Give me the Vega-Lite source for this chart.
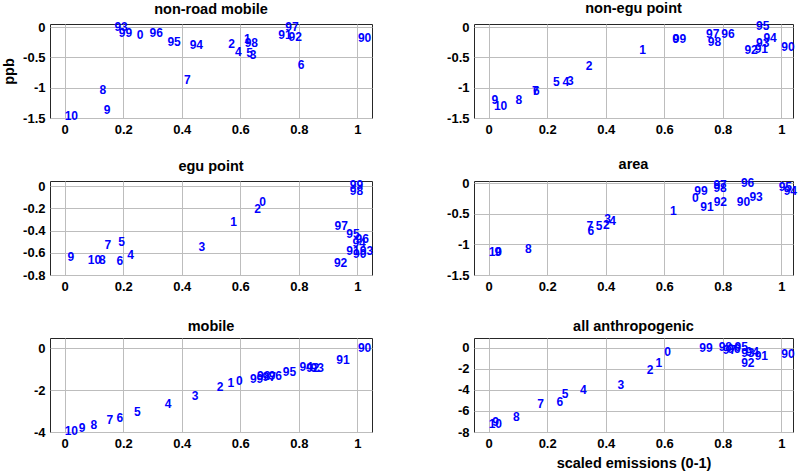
{
  "$schema": "https://vega.github.io/schema/vega-lite/v6.json",
  "background": "white",
  "padding": {"left": 1, "top": 0, "right": 5, "bottom": 2},
  "config": {
    "font": "Liberation Sans",
    "view": {"stroke": "#262626", "strokeWidth": 1},
    "axis": {
      "labelFont": "Liberation Sans", "labelFontSize": 13, "labelFontWeight": "bold", "labelColor": "black",
      "grid": true, "gridColor": "#bdbdbd", "gridOpacity": 1, "ticks": false, "domain": false,
      "labelPadding": 5, "labelOverlap": false, "labelFlush": false, "labelBound": false,
      "titleFont": "Liberation Sans", "titleFontSize": 14.5, "titleFontWeight": "bold", "titleColor": "black",
      "labelExpr": "'' + datum.value"
    },
    "title": {"font": "Liberation Sans", "fontSize": 14.5, "fontWeight": "bold", "color": "black", "offset": 4}
  },
  "datasets": {
    "d": [
      {"p": "non-road mobile", "l": "90", "x": 1.002, "y": -0.175},
      {"p": "non-road mobile", "l": "91", "x": 0.730, "y": -0.137},
      {"p": "non-road mobile", "l": "92", "x": 0.765, "y": -0.172},
      {"p": "non-road mobile", "l": "93", "x": 0.170, "y": 0.0},
      {"p": "non-road mobile", "l": "94", "x": 0.427, "y": -0.297},
      {"p": "non-road mobile", "l": "95", "x": 0.351, "y": -0.247},
      {"p": "non-road mobile", "l": "96", "x": 0.290, "y": -0.092},
      {"p": "non-road mobile", "l": "97", "x": 0.754, "y": 0.0},
      {"p": "non-road mobile", "l": "98", "x": 0.615, "y": -0.265},
      {"p": "non-road mobile", "l": "99", "x": 0.185, "y": -0.092},
      {"p": "non-road mobile", "l": "0", "x": 0.246, "y": -0.13},
      {"p": "non-road mobile", "l": "1", "x": 0.613, "y": -0.20},
      {"p": "non-road mobile", "l": "2", "x": 0.559, "y": -0.28},
      {"p": "non-road mobile", "l": "3", "x": 0.632, "y": -0.465},
      {"p": "non-road mobile", "l": "4", "x": 0.582, "y": -0.418},
      {"p": "non-road mobile", "l": "5", "x": 0.620, "y": -0.425},
      {"p": "non-road mobile", "l": "6", "x": 0.796, "y": -0.632},
      {"p": "non-road mobile", "l": "7", "x": 0.408, "y": -0.875},
      {"p": "non-road mobile", "l": "8", "x": 0.119, "y": -1.04},
      {"p": "non-road mobile", "l": "9", "x": 0.134, "y": -1.37},
      {"p": "non-road mobile", "l": "10", "x": 0.0, "y": -1.46},

      {"p": "non-egu point", "l": "90", "x": 1.0, "y": -0.325},
      {"p": "non-egu point", "l": "91", "x": 0.909, "y": -0.355},
      {"p": "non-egu point", "l": "92", "x": 0.874, "y": -0.38},
      {"p": "non-egu point", "l": "93", "x": 0.914, "y": -0.26},
      {"p": "non-egu point", "l": "94", "x": 0.939, "y": -0.175},
      {"p": "non-egu point", "l": "95", "x": 0.914, "y": 0.01},
      {"p": "non-egu point", "l": "96", "x": 0.795, "y": -0.12},
      {"p": "non-egu point", "l": "97", "x": 0.743, "y": -0.12},
      {"p": "non-egu point", "l": "98", "x": 0.749, "y": -0.248},
      {"p": "non-egu point", "l": "99", "x": 0.629, "y": -0.20},
      {"p": "non-egu point", "l": "0", "x": 0.627, "y": -0.20},
      {"p": "non-egu point", "l": "1", "x": 0.515, "y": -0.38},
      {"p": "non-egu point", "l": "2", "x": 0.332, "y": -0.645},
      {"p": "non-egu point", "l": "3", "x": 0.268, "y": -0.895},
      {"p": "non-egu point", "l": "4", "x": 0.252, "y": -0.905},
      {"p": "non-egu point", "l": "5", "x": 0.220, "y": -0.905},
      {"p": "non-egu point", "l": "6", "x": 0.152, "y": -1.06},
      {"p": "non-egu point", "l": "7", "x": 0.148, "y": -1.05},
      {"p": "non-egu point", "l": "8", "x": 0.092, "y": -1.197},
      {"p": "non-egu point", "l": "9", "x": 0.010, "y": -1.20},
      {"p": "non-egu point", "l": "10", "x": 0.018, "y": -1.31},

      {"p": "egu point", "l": "90", "x": 0.985, "y": -0.61},
      {"p": "egu point", "l": "91", "x": 0.962, "y": -0.585},
      {"p": "egu point", "l": "92", "x": 0.920, "y": -0.693},
      {"p": "egu point", "l": "93", "x": 1.008, "y": -0.58},
      {"p": "egu point", "l": "94", "x": 0.983, "y": -0.51},
      {"p": "egu point", "l": "95", "x": 0.962, "y": -0.434},
      {"p": "egu point", "l": "96", "x": 0.994, "y": -0.48},
      {"p": "egu point", "l": "97", "x": 0.922, "y": -0.362},
      {"p": "egu point", "l": "98", "x": 0.974, "y": -0.042},
      {"p": "egu point", "l": "99", "x": 0.974, "y": 0.013},
      {"p": "egu point", "l": "0", "x": 0.665, "y": -0.145},
      {"p": "egu point", "l": "1", "x": 0.566, "y": -0.326},
      {"p": "egu point", "l": "2", "x": 0.648, "y": -0.211},
      {"p": "egu point", "l": "3", "x": 0.457, "y": -0.548},
      {"p": "egu point", "l": "4", "x": 0.214, "y": -0.618},
      {"p": "egu point", "l": "5", "x": 0.183, "y": -0.503},
      {"p": "egu point", "l": "6", "x": 0.177, "y": -0.67},
      {"p": "egu point", "l": "7", "x": 0.136, "y": -0.534},
      {"p": "egu point", "l": "8", "x": 0.117, "y": -0.663},
      {"p": "egu point", "l": "9", "x": 0.010, "y": -0.639},
      {"p": "egu point", "l": "10", "x": 0.079, "y": -0.663},

      {"p": "area", "l": "90", "x": 0.848, "y": -0.31},
      {"p": "area", "l": "91", "x": 0.723, "y": -0.38},
      {"p": "area", "l": "92", "x": 0.769, "y": -0.31},
      {"p": "area", "l": "93", "x": 0.891, "y": -0.226},
      {"p": "area", "l": "94", "x": 1.008, "y": -0.127},
      {"p": "area", "l": "95", "x": 0.991, "y": -0.06},
      {"p": "area", "l": "96", "x": 0.862, "y": 0.01},
      {"p": "area", "l": "97", "x": 0.768, "y": -0.033},
      {"p": "area", "l": "98", "x": 0.768, "y": -0.07},
      {"p": "area", "l": "99", "x": 0.703, "y": -0.132},
      {"p": "area", "l": "0", "x": 0.695, "y": -0.238},
      {"p": "area", "l": "1", "x": 0.62, "y": -0.446},
      {"p": "area", "l": "2", "x": 0.391, "y": -0.685},
      {"p": "area", "l": "3", "x": 0.395, "y": -0.585},
      {"p": "area", "l": "4", "x": 0.412, "y": -0.61},
      {"p": "area", "l": "5", "x": 0.366, "y": -0.695},
      {"p": "area", "l": "6", "x": 0.338, "y": -0.777},
      {"p": "area", "l": "7", "x": 0.334, "y": -0.695},
      {"p": "area", "l": "8", "x": 0.124, "y": -1.07},
      {"p": "area", "l": "9", "x": 0.02, "y": -1.12},
      {"p": "area", "l": "10", "x": 0.0, "y": -1.13},

      {"p": "mobile", "l": "90", "x": 1.002, "y": 0.0},
      {"p": "mobile", "l": "91", "x": 0.928, "y": -0.54},
      {"p": "mobile", "l": "92", "x": 0.825, "y": -0.95},
      {"p": "mobile", "l": "93", "x": 0.84, "y": -0.95},
      {"p": "mobile", "l": "94", "x": 0.802, "y": -0.87},
      {"p": "mobile", "l": "95", "x": 0.745, "y": -1.14},
      {"p": "mobile", "l": "96", "x": 0.697, "y": -1.33},
      {"p": "mobile", "l": "97", "x": 0.676, "y": -1.38},
      {"p": "mobile", "l": "98", "x": 0.657, "y": -1.33},
      {"p": "mobile", "l": "99", "x": 0.633, "y": -1.47},
      {"p": "mobile", "l": "0", "x": 0.585, "y": -1.58},
      {"p": "mobile", "l": "1", "x": 0.556, "y": -1.65},
      {"p": "mobile", "l": "2", "x": 0.52, "y": -1.86},
      {"p": "mobile", "l": "3", "x": 0.434, "y": -2.28},
      {"p": "mobile", "l": "4", "x": 0.342, "y": -2.68},
      {"p": "mobile", "l": "5", "x": 0.237, "y": -3.05},
      {"p": "mobile", "l": "6", "x": 0.177, "y": -3.32},
      {"p": "mobile", "l": "7", "x": 0.143, "y": -3.41},
      {"p": "mobile", "l": "8", "x": 0.088, "y": -3.68},
      {"p": "mobile", "l": "9", "x": 0.048, "y": -3.79},
      {"p": "mobile", "l": "10", "x": 0.0, "y": -3.95},

      {"p": "all anthropogenic", "l": "90", "x": 1.0, "y": -0.66},
      {"p": "all anthropogenic", "l": "91", "x": 0.909, "y": -0.82},
      {"p": "all anthropogenic", "l": "92", "x": 0.863, "y": -1.45},
      {"p": "all anthropogenic", "l": "93", "x": 0.863, "y": -0.5},
      {"p": "all anthropogenic", "l": "94", "x": 0.878, "y": -0.41},
      {"p": "all anthropogenic", "l": "95", "x": 0.84, "y": 0.03},
      {"p": "all anthropogenic", "l": "96", "x": 0.815, "y": -0.15},
      {"p": "all anthropogenic", "l": "97", "x": 0.80, "y": -0.25},
      {"p": "all anthropogenic", "l": "98", "x": 0.786, "y": 0.05},
      {"p": "all anthropogenic", "l": "99", "x": 0.72, "y": -0.05},
      {"p": "all anthropogenic", "l": "0", "x": 0.60, "y": -0.47},
      {"p": "all anthropogenic", "l": "1", "x": 0.57, "y": -1.42},
      {"p": "all anthropogenic", "l": "2", "x": 0.54, "y": -2.1},
      {"p": "all anthropogenic", "l": "3", "x": 0.44, "y": -3.53},
      {"p": "all anthropogenic", "l": "4", "x": 0.312, "y": -4.06},
      {"p": "all anthropogenic", "l": "5", "x": 0.25, "y": -4.41},
      {"p": "all anthropogenic", "l": "6", "x": 0.232, "y": -5.2},
      {"p": "all anthropogenic", "l": "7", "x": 0.166, "y": -5.32},
      {"p": "all anthropogenic", "l": "8", "x": 0.083, "y": -6.58},
      {"p": "all anthropogenic", "l": "9", "x": 0.012, "y": -7.09},
      {"p": "all anthropogenic", "l": "10", "x": 0.0, "y": -7.25}
    ]
  },
  "data": {"name": "d"},
  "columns": 2,
  "spacing": {"row": 63, "column": 102},
  "bounds": "flush",
  "concat": [
    {
      "width": 322, "height": 94, "title": "non-road mobile",
      "transform": [{"filter": "datum.p == 'non-road mobile'"}],
      "mark": {"type": "text", "align": "left", "baseline": "middle", "font": "Liberation Sans", "fontSize": 12, "fontWeight": "bold", "color": "#0000ff"},
      "encoding": {
        "x": {"field": "x", "type": "quantitative", "scale": {"domain": [-0.05, 1.05], "nice": false, "zero": false}, "axis": {"title": null, "values": [0, 0.2, 0.4, 0.6, 0.8, 1]}},
        "y": {"field": "y", "type": "quantitative", "scale": {"domain": [-1.5, 0.05], "nice": false, "zero": false}, "axis": {"title": "ppb", "titlePadding": 6, "values": [-1.5, -1, -0.5, 0]}},
        "text": {"field": "l", "type": "nominal"}
      }
    },
    {
      "width": 319, "height": 94, "title": "non-egu point",
      "transform": [{"filter": "datum.p == 'non-egu point'"}],
      "mark": {"type": "text", "align": "left", "baseline": "middle", "font": "Liberation Sans", "fontSize": 12, "fontWeight": "bold", "color": "#0000ff"},
      "encoding": {
        "x": {"field": "x", "type": "quantitative", "scale": {"domain": [-0.05, 1.04], "nice": false, "zero": false}, "axis": {"title": null, "values": [0, 0.2, 0.4, 0.6, 0.8, 1]}},
        "y": {"field": "y", "type": "quantitative", "scale": {"domain": [-1.5, 0.05], "nice": false, "zero": false}, "axis": {"title": null, "values": [-1.5, -1, -0.5, 0]}},
        "text": {"field": "l", "type": "nominal"}
      }
    },
    {
      "width": 322, "height": 94, "title": "egu point",
      "transform": [{"filter": "datum.p == 'egu point'"}],
      "mark": {"type": "text", "align": "left", "baseline": "middle", "font": "Liberation Sans", "fontSize": 12, "fontWeight": "bold", "color": "#0000ff"},
      "encoding": {
        "x": {"field": "x", "type": "quantitative", "scale": {"domain": [-0.05, 1.05], "nice": false, "zero": false}, "axis": {"title": null, "values": [0, 0.2, 0.4, 0.6, 0.8, 1]}},
        "y": {"field": "y", "type": "quantitative", "scale": {"domain": [-0.8, 0.045], "nice": false, "zero": false}, "axis": {"title": null, "values": [-0.8, -0.6, -0.4, -0.2, 0]}},
        "text": {"field": "l", "type": "nominal"}
      }
    },
    {
      "width": 319, "height": 94, "title": "area",
      "transform": [{"filter": "datum.p == 'area'"}],
      "mark": {"type": "text", "align": "left", "baseline": "middle", "font": "Liberation Sans", "fontSize": 12, "fontWeight": "bold", "color": "#0000ff"},
      "encoding": {
        "x": {"field": "x", "type": "quantitative", "scale": {"domain": [-0.05, 1.04], "nice": false, "zero": false}, "axis": {"title": null, "values": [0, 0.2, 0.4, 0.6, 0.8, 1]}},
        "y": {"field": "y", "type": "quantitative", "scale": {"domain": [-1.5, 0.04], "nice": false, "zero": false}, "axis": {"title": null, "values": [-1.5, -1, -0.5, 0]}},
        "text": {"field": "l", "type": "nominal"}
      }
    },
    {
      "width": 322, "height": 94, "title": "mobile",
      "transform": [{"filter": "datum.p == 'mobile'"}],
      "mark": {"type": "text", "align": "left", "baseline": "middle", "font": "Liberation Sans", "fontSize": 12, "fontWeight": "bold", "color": "#0000ff"},
      "encoding": {
        "x": {"field": "x", "type": "quantitative", "scale": {"domain": [-0.05, 1.05], "nice": false, "zero": false}, "axis": {"title": null, "values": [0, 0.2, 0.4, 0.6, 0.8, 1]}},
        "y": {"field": "y", "type": "quantitative", "scale": {"domain": [-4, 0.5], "nice": false, "zero": false}, "axis": {"title": null, "values": [-4, -2, 0]}},
        "text": {"field": "l", "type": "nominal"}
      }
    },
    {
      "width": 319, "height": 94, "title": "all anthropogenic",
      "transform": [{"filter": "datum.p == 'all anthropogenic'"}],
      "mark": {"type": "text", "align": "left", "baseline": "middle", "font": "Liberation Sans", "fontSize": 12, "fontWeight": "bold", "color": "#0000ff"},
      "encoding": {
        "x": {"field": "x", "type": "quantitative", "scale": {"domain": [-0.05, 1.04], "nice": false, "zero": false}, "axis": {"title": "scaled emissions (0-1)", "titlePadding": 6, "values": [0, 0.2, 0.4, 0.6, 0.8, 1]}},
        "y": {"field": "y", "type": "quantitative", "scale": {"domain": [-8, 0.9], "nice": false, "zero": false}, "axis": {"title": null, "values": [-8, -6, -4, -2, 0]}},
        "text": {"field": "l", "type": "nominal"}
      }
    }
  ]
}
